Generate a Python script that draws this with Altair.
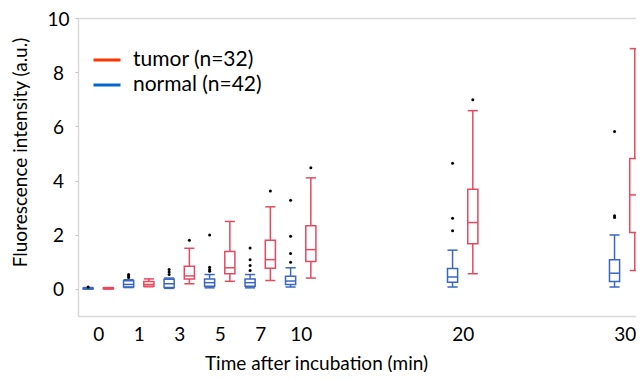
import altair as alt
import pandas as pd

# ---- data ----
times = ["0", "1", "3", "5", "7", "10", "20", "30"]
# broken category axis: blanks are empty slots between 10, 20 and 30
axis_order = ["0", "1", "3", "5", "7", "10", "", "", "", "20", "", "", "", "30"]

normal_lo = [0.00, 0.05, 0.02, 0.04, 0.04, 0.07, 0.07, 0.07]
normal_q1 = [0.00, 0.07, 0.05, 0.10, 0.10, 0.165, 0.25, 0.275]
normal_med = [0.01, 0.165, 0.19, 0.23, 0.23, 0.29, 0.44, 0.58]
normal_q3 = [0.03, 0.30, 0.36, 0.37, 0.37, 0.47, 0.75, 1.08]
normal_hi = [0.05, 0.34, 0.40, 0.53, 0.53, 0.78, 1.43, 1.99]
normal_out = [[0.07], [0.42, 0.48, 0.53], [0.53, 0.62, 0.72], [0.65, 0.72, 0.80, 1.99],
              [0.68, 0.86, 1.08, 1.51], [0.98, 1.31, 1.94, 3.27], [2.15, 2.61, 4.64],
              [2.64, 2.70, 5.81]]

tumor_lo = [0.00, 0.08, 0.19, 0.28, 0.31, 0.40, 0.56, 0.68]
tumor_q1 = [0.00, 0.10, 0.37, 0.56, 0.76, 1.01, 1.67, 2.08]
tumor_med = [0.02, 0.165, 0.48, 0.78, 1.08, 1.45, 2.45, 3.47]
tumor_q3 = [0.04, 0.275, 0.84, 1.38, 1.80, 2.33, 3.68, 4.81]
tumor_hi = [0.05, 0.37, 1.50, 2.49, 3.03, 4.10, 6.58, 8.87]
tumor_out = [[], [], [1.80], [], [3.61], [4.47], [6.98], []]

groups = ["normal", "tumor"]
legend_labels = ["tumor (n=32)", "normal (n=42)"]

BOX_RED = "#E8495F"
BOX_BLUE = "#3A67C0"
LEG_RED = "#FF3300"
LEG_BLUE = "#0066CC"
FONT = "Lato"
FS = 19
LFS = 21

# ---- build tables ----
offset = {"normal": -0.25, "tumor": 0.25}
half = 0.125
stats = {
    "normal": (normal_lo, normal_q1, normal_med, normal_q3, normal_hi, normal_out),
    "tumor": (tumor_lo, tumor_q1, tumor_med, tumor_q3, tumor_hi, tumor_out),
}
rows, outs = [], []
for g in groups:
    lo, q1, med, q3, hi, out = stats[g]
    for i, t in enumerate(times):
        p = axis_order.index(t) + offset[g]
        rows.append(dict(group=g, time=t, pos=p, left=p - half, right=p + half,
                         lo=lo[i], q1=q1[i], med=med[i], q3=q3[i], hi=hi[i]))
        for v in out[i]:
            outs.append(dict(group=g, time=t, pos=p, value=v))
box_df = pd.DataFrame(rows)
out_df = pd.DataFrame(outs)
leg_df = pd.DataFrame({"label": legend_labels})

tick_slots = [axis_order.index(t) for t in times]
label_expr = "{" + ",".join(f"'{s}':'{t}'" for s, t in zip(tick_slots, times)) + "}[datum.value]"

xscale = alt.Scale(domain=[-0.5, 13.28], nice=False, zero=False)
yscale = alt.Scale(domain=[-1, 10], nice=False, zero=False)
stroke_scale = alt.Scale(domain=groups, range=[BOX_BLUE, BOX_RED])

x_axis = alt.Axis(values=tick_slots, labelExpr=label_expr, grid=False, ticks=False,
                  tickSize=0, labelPadding=9, labelFontSize=FS, labelFont=FONT,
                  labelColor="black", domainColor="#d9d9d9", domainWidth=1.5,
                  title="Time after incubation (min)", titleFont=FONT, titleFontSize=FS,
                  titleFontWeight="normal", titleColor="black", titleX=238, titleY=47,
                  titleBaseline="middle", labelFlush=False)
y_axis = alt.Axis(values=list(range(0, 11)),
                  labelExpr="datum.value % 2 == 0 ? datum.value : ''",
                  grid=True, gridColor="#d9d9d9", gridWidth=1.5,
                  gridOpacity=alt.expr("datum.value == 10 ? 1 : 0"),
                  tickSize=3, tickColor="#bfbfbf", labelPadding=17, labelAlign="center",
                  labelBaseline="middle", labelOffset=1, labelFontSize=FS, labelFont=FONT,
                  labelColor="black", domainColor="#d9d9d9", domainWidth=1.5,
                  title="Fluorescence intensity (a.u.)", titleFont=FONT, titleFontSize=FS,
                  titleFontWeight="normal", titleColor="black", titleX=-58, titleY=134,
                  titleAngle=-90, titleBaseline="middle")

base = alt.Chart(box_df)
sc = alt.Stroke("group:N", scale=stroke_scale, legend=None)

whisk_lo = base.mark_rule(strokeWidth=1.5, clip=True).encode(
    x=alt.X("pos:Q", scale=xscale, axis=x_axis),
    y=alt.Y("lo:Q", scale=yscale, axis=y_axis),
    y2="q1:Q", stroke=sc,
)
whisk_hi = base.mark_rule(strokeWidth=1.5, clip=True).encode(
    x="pos:Q", y="q3:Q", y2="hi:Q", stroke=sc,
)
boxes = base.mark_rect(fill="white", strokeWidth=1.5, clip=True).encode(
    x="left:Q", x2="right:Q", y="q1:Q", y2="q3:Q", stroke=sc,
)
median = base.mark_rule(strokeWidth=1.5, clip=True).encode(
    x="left:Q", x2="right:Q", y="med:Q", stroke=sc,
)
cap_lo = base.mark_rule(strokeWidth=1.5, clip=True).encode(
    x="left:Q", x2="right:Q", y="lo:Q", stroke=sc,
)
cap_hi = base.mark_rule(strokeWidth=1.5, clip=True).encode(
    x="left:Q", x2="right:Q", y="hi:Q", stroke=sc,
)
outliers = alt.Chart(out_df).mark_circle(size=9, color="black", opacity=1, clip=True).encode(
    x="pos:Q", y="value:Q",
)
legend_layer = alt.Chart(leg_df).mark_point(opacity=0).encode(
    color=alt.Color("label:N",
                    scale=alt.Scale(domain=legend_labels, range=[LEG_RED, LEG_BLUE]),
                    legend=alt.Legend(title=None, orient="none", legendX=14, legendY=27,
                                      symbolType="stroke", symbolSize=729,
                                      symbolStrokeWidth=3, symbolOpacity=1,
                                      labelFont=FONT, labelFontSize=LFS, labelColor="black",
                                      labelOffset=11, rowPadding=0)),
)

chart = alt.layer(whisk_lo, whisk_hi, boxes, median, cap_lo, cap_hi, outliers, legend_layer).properties(
    width=558, height=298,
    autosize=alt.AutoSizeParams(type="none"),
    padding={"left": 70, "top": 10, "right": 0, "bottom": 56},
).configure_view(stroke=None).configure(background="white").configure_legend(
    labelFontSize=LFS, labelFont=FONT, labelOffset=11, rowPadding=0,
    symbolStrokeWidth=3, symbolSize=729,
)

chart.save("out.html", embed_options={"renderer": "svg", "actions": False})
